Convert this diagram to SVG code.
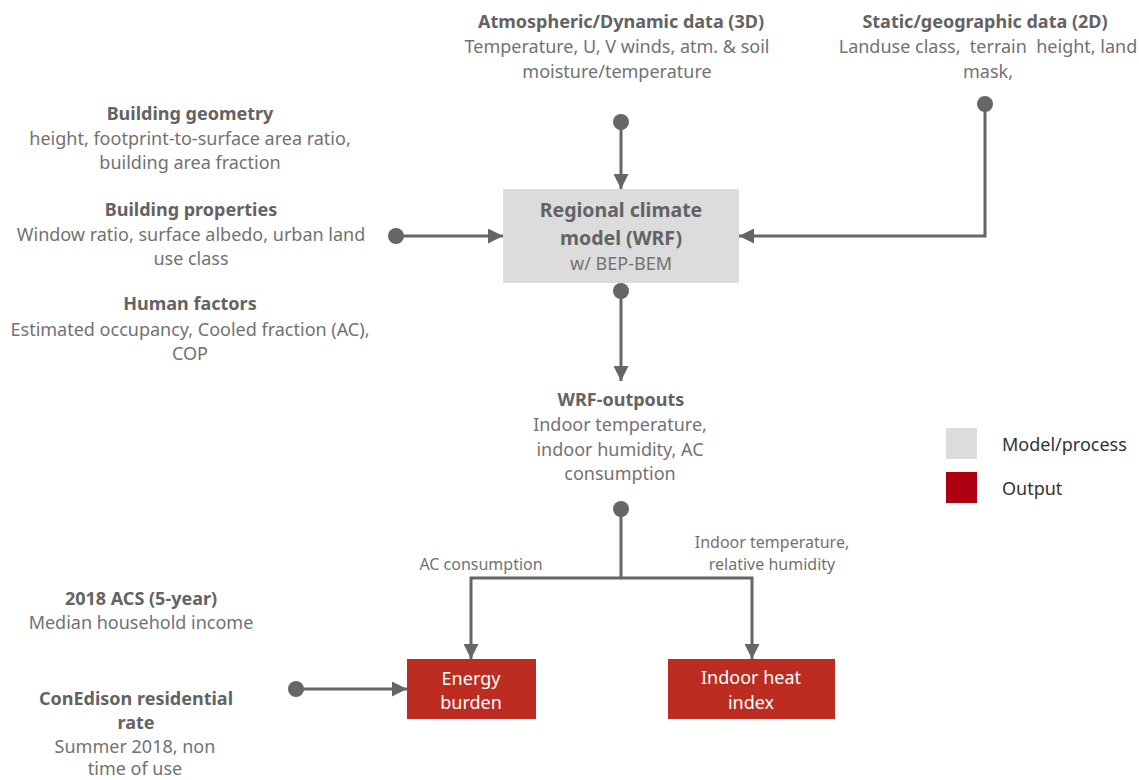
<svg xmlns="http://www.w3.org/2000/svg" width="1139" height="780" viewBox="0 0 1139 780">
<style>
text{font-family:"Noto Sans","Liberation Sans",sans-serif;text-anchor:middle;fill:#727272;font-size:18px;white-space:pre}
.b{font-weight:bold;fill:#636363}
.t{font-size:19.5px}
.s{font-size:16px}
.w{fill:#ffffff}
.l{text-anchor:start;fill:#333}
.c{stroke:#666;stroke-width:3;fill:none}
.d{fill:#666}
</style>
<defs>
<marker id="ah" viewBox="0 0 10 10" refX="10" refY="5" markerWidth="5" markerHeight="5" markerUnits="strokeWidth" orient="auto"><path d="M0,0L10,5L0,10z" fill="#666"/></marker>
</defs>
<rect width="1139" height="780" fill="#fff"/>
<g id="atmospheric">
<text x="621" y="28" class="b">Atmospheric/Dynamic data (3D)</text>
<text x="617" y="53">Temperature, U, V winds, atm. &amp; soil</text>
<text x="617" y="78">moisture/temperature</text>
</g>
<g id="static">
<text x="985" y="28" class="b">Static/geographic data (2D)</text>
<text x="988" y="53" xml:space="preserve">Landuse class,  terrain  height, land</text>
<text x="988" y="78">mask,</text>
</g>
<g id="inputs-left">
<text x="190" y="120" class="b">Building geometry</text>
<text x="190" y="145">height, footprint-to-surface area ratio,</text>
<text x="190" y="169">building area fraction</text>
<text x="191" y="216" class="b">Building properties</text>
<text x="191" y="241">Window ratio, surface albedo, urban land</text>
<text x="191" y="265">use class</text>
<text x="190" y="310" class="b">Human factors</text>
<text x="190" y="336">Estimated occupancy, Cooled fraction (AC),</text>
<text x="190" y="360">COP</text>
</g>
<g id="wrf">
<rect x="503" y="189" width="236" height="94" fill="#dcdcdc"/>
<text x="621" y="217" class="b t">Regional climate</text>
<text x="621" y="245" class="b t">model (WRF)</text>
<text x="621" y="270">w/ BEP-BEM</text>
</g>
<g id="wrf-outputs">
<text x="621" y="406" class="b">WRF-outpouts</text>
<text x="620" y="431">Indoor temperature,</text>
<text x="620" y="456">indoor humidity, AC</text>
<text x="620" y="480">consumption</text>
</g>
<g id="acs">
<text x="141" y="605" class="b">2018 ACS (5-year)</text>
<text x="141" y="629">Median household income</text>
</g>
<g id="conedison">
<text x="136" y="705" class="b">ConEdison residential</text>
<text x="136" y="729" class="b">rate</text>
<text x="135" y="753">Summer 2018, non</text>
<text x="135" y="775">time of use</text>
</g>
<g id="energy-burden">
<rect x="407" y="659" width="129" height="60" fill="#bd2c20"/>
<text x="471" y="685" class="w">Energy</text>
<text x="471" y="709" class="w">burden</text>
</g>
<g id="heat-index">
<rect x="668" y="659" width="167" height="60" fill="#bd2c20"/>
<text x="751" y="684" class="w">Indoor heat</text>
<text x="751" y="709" class="w">index</text>
</g>
<g id="legend">
<rect x="946" y="428" width="31" height="31" fill="#dcdcdc"/>
<rect x="946" y="472" width="31" height="31" fill="#af0011"/>
<text x="1002" y="451" class="l">Model/process</text>
<text x="1002" y="495" class="l">Output</text>
</g>
<g id="connectors">
<circle cx="621" cy="122" r="8" class="d"/>
<path d="M621,122V189" class="c" marker-end="url(#ah)"/>
<circle cx="985" cy="104" r="8" class="d"/>
<path d="M985,104V236H739" class="c" marker-end="url(#ah)"/>
<circle cx="396" cy="236" r="8" class="d"/>
<path d="M396,236H503" class="c" marker-end="url(#ah)"/>
<circle cx="621" cy="291" r="8" class="d"/>
<path d="M621,291V381" class="c" marker-end="url(#ah)"/>
<circle cx="621" cy="509" r="8" class="d"/>
<path d="M621,509V578H471V659" class="c" marker-end="url(#ah)"/>
<path d="M621,578H752V659" class="c" marker-end="url(#ah)"/>
<circle cx="296" cy="689" r="8" class="d"/>
<path d="M296,689H407" class="c" marker-end="url(#ah)"/>
<text x="481" y="570" class="s">AC consumption</text>
<text x="772" y="548" class="s">Indoor temperature,</text>
<text x="772" y="570" class="s">relative humidity</text>
</g>
</svg>
